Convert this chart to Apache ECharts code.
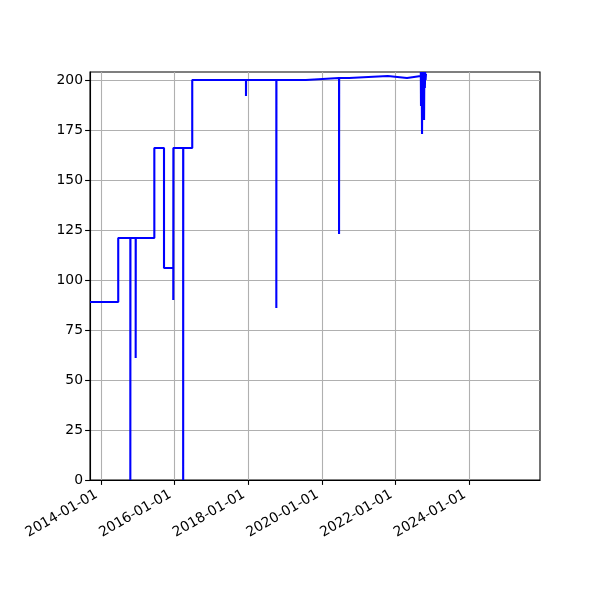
<!DOCTYPE html>
<html>
<head>
<meta charset="utf-8">
<script src="https://cdn.jsdelivr.net/npm/echarts@6/dist/echarts.min.js"></script>
<style>html,body{margin:0;padding:0;background:#fff}#c{width:600px;height:600px}</style>
</head>
<body>
<div id="c"></div>
<script>
const dates = [
  '2013-09-14','2014-06-21','2014-10-19','2014-10-20','2014-12-11','2014-12-12',
  '2015-06-14','2015-09-18','2015-12-19','2015-12-20','2016-03-26','2016-03-27',
  '2016-06-24','2017-12-09','2017-12-10','2018-10-06','2018-10-07','2019-07-25',
  '2020-06-19','2020-06-20','2020-09-26','2021-10-15','2022-04-24',
  '2022-09-08','2022-09-10','2022-09-12','2022-09-15','2022-09-17','2022-09-20',
  '2022-09-22','2022-09-25','2022-09-28','2022-10-01','2022-10-04','2022-10-06',
  '2022-10-10','2022-10-12','2022-10-15','2022-10-18','2022-10-21','2022-10-25','2022-10-29'
];
const values = [
  89,121,0,121,61,121,
  166,106,90,166,0,166,
  200,192,200,86,200,201,
  123,201,202,201,202,
  204,187,204,195,204,173,
  200,204,196,204,190,204,
  180,198,204,196,204,200,203
];
const xTickLabels = ['2014-01-01','2016-01-01','2018-01-01','2020-01-01','2022-01-01','2024-01-01'];
const yTicks = [0,25,50,75,100,125,150,175,200];
const xMin = '2013-09-14', xMax = '2025-12-03';
const yMin = 0, yMax = 204;

function ts(s){ const p = s.split('-').map(Number); return new Date(p[0], p[1]-1, p[2]).getTime(); }
function pad(n){ return (n<10?'0':'')+n; }
function fmt(v){ const d = new Date(Math.round(v)); return d.getFullYear()+'-'+pad(d.getMonth()+1)+'-'+pad(d.getDate()); }

const seriesData = dates.map((d,i)=>[ts(d), values[i]]);
const xTickVals = xTickLabels.map(ts);
const font = 'DejaVu Sans';

const chart = echarts.init(document.getElementById('c'), null, {renderer:'canvas'});
chart.setOption({
  animation:false,
  grid:{left:90,right:60,top:72,bottom:120,show:true,borderColor:'#000',borderWidth:1.1,backgroundColor:'transparent'},
  xAxis:{
    type:'value', min:ts(xMin), max:ts(xMax), scale:true,
    axisLine:{show:true,onZero:false,lineStyle:{color:'#000',width:1.1}},
    axisTick:{show:true,length:4.9,inside:false,customValues:xTickVals,lineStyle:{color:'#000',width:1.1}},
    axisLabel:{show:true,customValues:xTickVals,rotate:30,margin:11,padding:[0,5,0,0],hideOverlap:false,
      formatter:function(v){return fmt(v);},color:'#000',fontFamily:font,fontSize:13.9},
    splitLine:{show:true,lineStyle:{color:'#b0b0b0',width:1.1}}
  },
  yAxis:{
    type:'value', min:yMin, max:yMax,
    axisLine:{show:true,lineStyle:{color:'#000',width:1.1}},
    axisTick:{show:true,length:4.9,customValues:yTicks,lineStyle:{color:'#000',width:1.1}},
    axisLabel:{show:true,customValues:yTicks,margin:7,color:'#000',fontFamily:font,fontSize:13.9},
    splitLine:{show:true,lineStyle:{color:'#b0b0b0',width:1.1}}
  },
  series:[{
    type:'line', step:'end', data:seriesData, showSymbol:false, symbol:'none',
    lineStyle:{color:'#0000ff',width:2.1}, clip:true
  }]
});
</script>
</body>
</html>
